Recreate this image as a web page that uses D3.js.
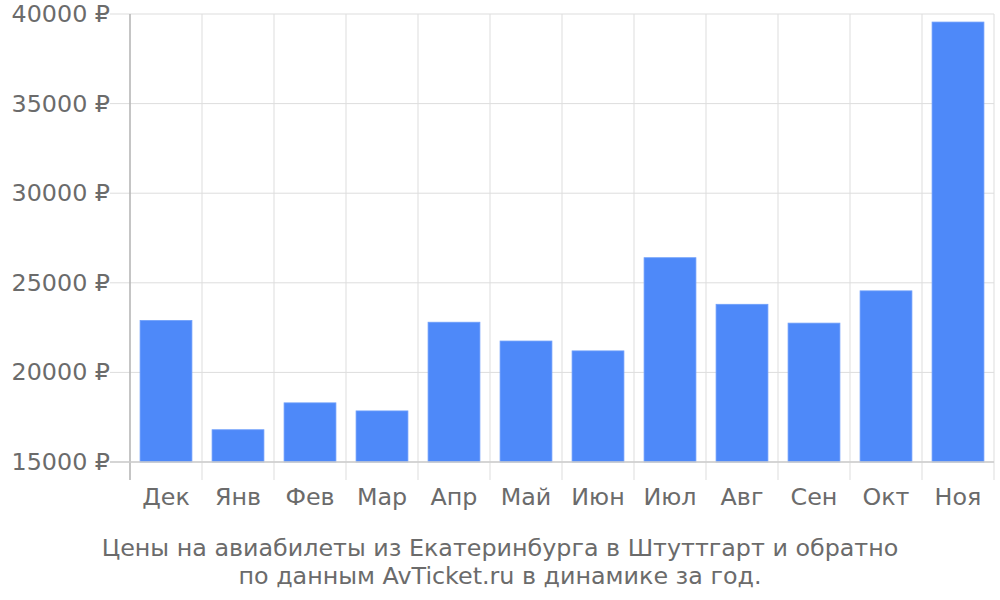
<!DOCTYPE html>
<html>
<head>
<meta charset="utf-8">
<script src="https://cdn.jsdelivr.net/npm/d3@7"></script>
<style>
  body { margin: 0; background: #fff; }
  text { font-family: "DejaVu Sans", sans-serif; fill: #6b6b6b; }
</style>
</head>
<body>
<svg id="chart" width="1000" height="600"></svg>
<script>
const months = ["Дек", "Янв", "Фев", "Мар", "Апр", "Май", "Июн", "Июл", "Авг", "Сен", "Окт", "Ноя"];
const prices = [22900, 16800, 18300, 17850, 22800, 21750, 21200, 26400, 23800, 22750, 24550, 39550];
const yTicks = [15000, 20000, 25000, 30000, 35000, 40000];
const captionLines = [
    "Цены на авиабилеты из Екатеринбурга в Штуттгарт и обратно",
    "по данным AvTicket.ru в динамике за год."
];

const svg = d3.select("#chart");
const plotLeft = 130, plotRight = 994, plotTop = 14, plotBottom = 462;
const fontSize = "23.8px";

const x = d3.scaleBand()
    .domain(months)
    .range([plotLeft, plotRight])
    .paddingInner(0.28)
    .paddingOuter(0.14);

const y = d3.scaleLinear()
    .domain([15000, 40000])
    .range([plotBottom, plotTop]);

// vertical grid lines (band edges)
const step = x.step();
const edges = d3.range(months.length + 1).map(i => plotLeft + i * step);
svg.append("g").selectAll("line")
    .data(edges)
    .join("line")
    .attr("x1", d => d).attr("x2", d => d)
    .attr("y1", plotTop).attr("y2", plotBottom + 18)
    .attr("stroke", "#ddd")
    .attr("stroke-width", 1);

// horizontal grid
svg.append("g").selectAll("line")
    .data(yTicks)
    .join("line")
    .attr("x1", plotLeft - 20).attr("x2", plotRight)
    .attr("y1", d => y(d)).attr("y2", d => y(d))
    .attr("stroke", "#ddd")
    .attr("stroke-width", 1);

// bars
svg.append("g").selectAll("rect")
    .data(prices)
    .join("rect")
    .attr("x", (d, i) => x(months[i]))
    .attr("y", d => y(d))
    .attr("width", x.bandwidth())
    .attr("height", d => plotBottom - y(d))
    .attr("fill", "#4e89f9")
    .attr("stroke", "#6f9ffa")
    .attr("stroke-width", 0.8);

// axis lines
svg.append("line")
    .attr("x1", plotLeft).attr("x2", plotLeft)
    .attr("y1", plotTop).attr("y2", plotBottom + 18)
    .attr("stroke", "#aaa").attr("stroke-width", 1.2);
svg.append("line")
    .attr("x1", plotLeft - 20).attr("x2", plotRight)
    .attr("y1", plotBottom).attr("y2", plotBottom)
    .attr("stroke", "#ccc").attr("stroke-width", 1.5);

// y labels
svg.append("g").selectAll("text")
    .data(yTicks)
    .join("text")
    .attr("x", plotLeft - 20)
    .attr("y", d => y(d) + 8)
    .attr("text-anchor", "end")
    .style("font-size", fontSize)
    .text(d => d + " ₽");

// x labels
svg.append("g").selectAll("text")
    .data(months)
    .join("text")
    .attr("x", d => x(d) + x.bandwidth() / 2)
    .attr("y", 505)
    .attr("text-anchor", "middle")
    .style("font-size", fontSize)
    .text(d => d);

// caption
svg.append("g").selectAll("text")
    .data(captionLines)
    .join("text")
    .attr("x", 500)
    .attr("y", (d, i) => 556 + i * 28)
    .attr("text-anchor", "middle")
    .style("font-size", fontSize)
    .text(d => d);
</script>
</body>
</html>
